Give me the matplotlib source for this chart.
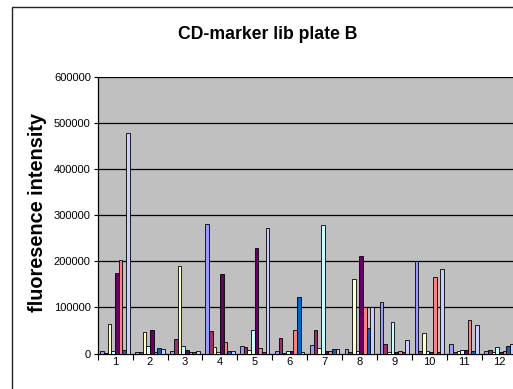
import matplotlib
matplotlib.use("Agg")
import matplotlib.pyplot as plt
import numpy as np
from matplotlib.patches import Rectangle

plt.rcParams['font.family'] = ['Liberation Sans', 'DejaVu Sans']

columns = ["1", "2", "3", "4", "5", "6", "7", "8", "9", "10", "11", "12"]
row_a = [6000, 4000, 6000, 282000, 16000, 6000, 19000, 10000, 111000, 202000, 20000, 5000]
row_b = [2000, 4000, 32000, 48000, 14000, 33000, 52000, 3000, 21000, 6000, 3000, 8000]
row_c = [64000, 46000, 190000, 15000, 8000, 2000, 12000, 161000, 3000, 44000, 6000, 4000]
row_d = [6000, 16000, 16000, 3000, 50000, 6000, 280000, 6000, 68000, 5000, 8000, 14000]
row_e = [175000, 50000, 8000, 173000, 229000, 6000, 6000, 212000, 3000, 3000, 7000, 4000]
row_f = [203000, 3000, 4000, 25000, 12000, 50000, 6000, 100000, 6000, 167000, 72000, 5000]
row_g = [8000, 12000, 4000, 6000, 3000, 122000, 10000, 56000, 3000, 3000, 6000, 16000]
row_h = [479000, 10000, 6000, 6000, 273000, 4000, 10000, 100000, 29000, 183000, 62000, 20000]

rows = [row_a, row_b, row_c, row_d, row_e, row_f, row_g, row_h]
colors = ["#9999FF", "#993366", "#FFFFCC", "#CCFFFF",
          "#660066", "#FF8080", "#0066CC", "#CCCCFF"]
yticks = [0, 100000, 200000, 300000, 400000, 500000, 600000]

W, H = 513, 389
fig = plt.figure(figsize=(W / 100, H / 100), dpi=100)
fig.patch.set_facecolor("white")

# outer chart frame (runs past the right and bottom edges)
fig.add_artist(Rectangle((12 / W, -0.2), 1.2, 1.2 - 7 / H,
                         transform=fig.transFigure, fill=False,
                         edgecolor="#222222", linewidth=1.0))

left, right = 97.7, 516.5
top, bottom = 77.3, 353.5
ax = fig.add_axes([left / W, (H - bottom) / H, (right - left) / W, (bottom - top) / H])
ax.set_facecolor("#C0C0C0")

n = len(rows)
bw = 1.0 / (n + 1.5)
x = np.arange(len(columns))
for i, (vals, c) in enumerate(zip(rows, colors)):
    ax.bar(x + (i - (n - 1) / 2) * bw, vals, width=bw, color=c,
           edgecolor="black", linewidth=0.6, zorder=3)

ax.set_xlim(-0.5, len(columns) - 0.5)
ax.set_ylim(0, 600000)
ax.set_yticks(yticks)
ax.set_yticklabels([str(v) for v in yticks], fontsize=8)
for v in yticks[1:]:
    ax.axhline(v, color="black", linewidth=0.9, zorder=1)

ax.set_xticks(np.arange(-0.5, len(columns), 1.0))
ax.set_xticklabels([])
ax.set_xticks(x, minor=True)
ax.set_xticklabels(columns, minor=True, fontsize=8)
ax.tick_params(axis="x", which="major", length=4, width=0.8, direction="out")
ax.tick_params(axis="x", which="minor", length=0, pad=2.5)
ax.tick_params(axis="y", length=3, width=0.8, direction="out", pad=2)

for s in ["top", "right"]:
    ax.spines[s].set_visible(False)
for s in ["left", "bottom"]:
    ax.spines[s].set_color("black")
    ax.spines[s].set_linewidth(0.9)

fig.text(268 / W, 1 - 34.3 / H, "CD-marker lib plate B", ha="center", va="center",
         fontsize=12.7, fontweight="bold")
fig.text(38 / W, 1 - 213 / H, "fluoresence intensity", ha="center", va="center",
         rotation=90, fontsize=14.3, fontweight="bold")

fig.savefig("out.png", dpi=100)
